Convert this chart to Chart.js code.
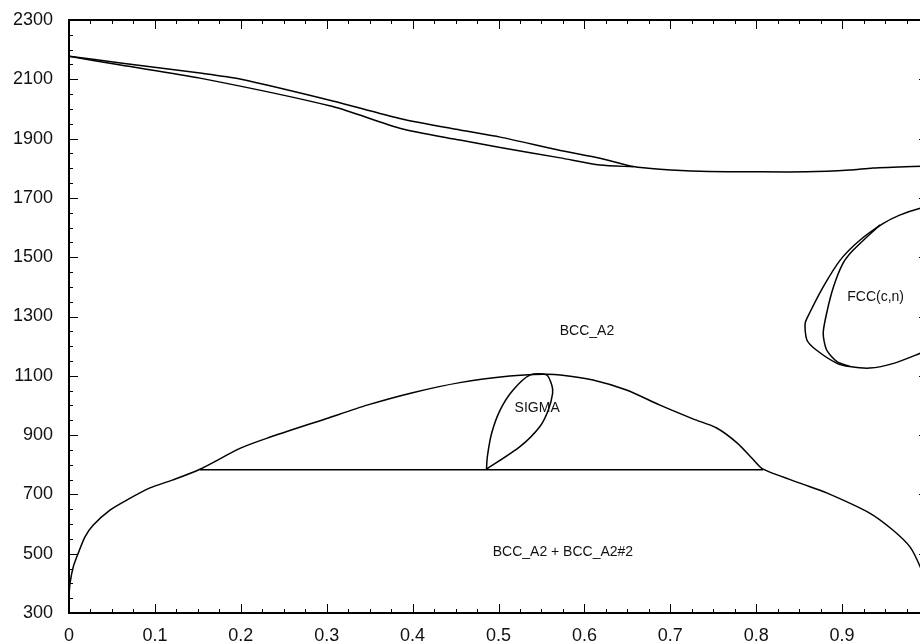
<!DOCTYPE html>
<html>
<head>
<meta charset="utf-8">
<script src="https://cdn.jsdelivr.net/npm/chart.js@4.4.1/dist/chart.umd.min.js"></script>
<style>
  html, body { margin: 0; padding: 0; background: #fff; overflow: hidden; }
  canvas { display: block; }
</style>
</head>
<body>
<canvas id="phaseChart" width="940" height="641"></canvas>
<script>
// tick values
const xTicks = [0, 0.1, 0.2, 0.3, 0.4, 0.5, 0.6, 0.7, 0.8, 0.9, 1]
const yTicks = [300, 500, 700, 900, 1100, 1300, 1500, 1700, 1900, 2100, 2300]

// liquidus / solidus
const liquidusX = [0, 0.06, 0.1525, 0.199, 0.307, 0.385, 0.455, 0.502, 0.572, 0.618, 0.657, 0.688, 0.735, 0.80, 0.859, 0.909, 0.936, 1.0]
const liquidusT = [2178, 2155, 2121, 2101, 2027, 1968, 1929, 1905, 1860, 1834, 1806, 1797, 1790, 1788, 1788, 1794, 1801, 1808]
const solidusX = [0, 0.06, 0.1525, 0.307, 0.385, 0.455, 0.502, 0.572, 0.618, 0.657]
const solidusT = [2178, 2148, 2104, 2008, 1935, 1895, 1870, 1835, 1811, 1805]

// bcc miscibility gap
const gapX = [0, 0.0012, 0.005, 0.0108, 0.0186, 0.0283, 0.0477, 0.0672, 0.0943, 0.121, 0.1525, 0.199, 0.23, 0.3, 0.347, 0.4, 0.455,
    0.513, 0.552, 0.572, 0.61, 0.649, 0.688, 0.727, 0.754, 0.778, 0.797, 0.808, 0.851, 0.882, 0.932, 0.959, 0.979, 0.991, 1.0]
const gapT = [360, 401, 456, 502, 557, 597, 647, 681, 722, 749, 785, 855, 889, 956, 1001, 1043, 1077,
    1099, 1105, 1103, 1086, 1052, 1001, 954, 924, 873, 816, 785, 738, 705, 637, 580, 523, 455, 380]

// eutectoid tie line
const tieX = [0.1525, 0.808]
const tieT = [783, 783]

// sigma loop
const sigmaX = [0.486, 0.487, 0.492, 0.502, 0.517, 0.537, 0.556, 0.562, 0.563, 0.558, 0.548, 0.525, 0.486]
const sigmaT = [785, 827, 906, 985, 1052, 1103, 1103, 1069, 1041, 985, 928, 861, 785]

// fcc loop (outer and inner boundary)
const fccOuterX = [1.0, 0.991, 0.967, 0.948, 0.921, 0.898, 0.878, 0.862, 0.857, 0.859, 0.87, 0.894, 0.909, 0.932, 0.96, 0.991, 1.0]
const fccOuterT = [1668, 1665, 1642, 1614, 1558, 1491, 1400, 1311, 1277, 1221, 1187, 1142, 1131, 1126, 1142, 1176, 1187]
const fccInnerX = [0.944, 0.913, 0.901, 0.89, 0.882, 0.878, 0.882, 0.894, 0.909]
const fccInnerT = [1609, 1524, 1479, 1400, 1311, 1243, 1187, 1148, 1131]

// phase field names
const phaseLabels = ['BCC_A2', 'SIGMA', 'BCC_A2 + BCC_A2#2', 'FCC(c,n)']
const phaseLabelX = [0.603, 0.545, 0.575, 0.939]
const phaseLabelT = [1251, 990, 506, 1366]


function toPoints(xs, ts) {
    return xs.map((x, i) => ({ x: x, y: ts[i] }))
}

function curve(xs, ts) {
    return {
        data: toPoints(xs, ts),
        showLine: true,
        borderColor: '#000',
        borderWidth: 1.5,
        pointRadius: 0,
        tension: 0.25
    }
}

// inward ticks on all four sides + frame + field names
const framePlugin = {
    id: 'frame',
    afterDraw(chart) {
        const ctx = chart.ctx
        const a = chart.chartArea
        const xs = chart.scales.x
        const ys = chart.scales.y
        ctx.save()
        ctx.strokeStyle = '#000'
        ctx.lineWidth = 1
        ctx.beginPath()
        for (let i = 0; i <= 40; i++) {
            const len = i % 4 === 0 ? 9 : 4
            const px = Math.round(xs.getPixelForValue(i * 0.025)) + 0.5
            ctx.moveTo(px, a.bottom); ctx.lineTo(px, a.bottom - len)
            ctx.moveTo(px, a.top); ctx.lineTo(px, a.top + len)
            const py = Math.round(ys.getPixelForValue(300 + i * 50)) + 0.5
            ctx.moveTo(a.left, py); ctx.lineTo(a.left + len, py)
            ctx.moveTo(a.right, py); ctx.lineTo(a.right - len, py)
        }
        ctx.stroke()
        ctx.lineWidth = 2
        ctx.strokeRect(a.left, a.top, a.right - a.left, a.bottom - a.top)

        ctx.fillStyle = '#111'
        ctx.font = '14px "Liberation Sans", Arial, sans-serif'
        ctx.textAlign = 'center'
        ctx.textBaseline = 'middle'
        phaseLabels.forEach((t, i) => {
            ctx.fillText(t, xs.getPixelForValue(phaseLabelX[i]), ys.getPixelForValue(phaseLabelT[i]))
        })
        ctx.restore()
    }
}

const tickFont = { family: '"Liberation Sans", Arial, sans-serif', size: 18 }

new Chart(document.getElementById('phaseChart'), {
    type: 'scatter',
    data: {
        datasets: [
            curve(liquidusX, liquidusT),
            curve(solidusX, solidusT),
            curve(gapX, gapT),
            curve(tieX, tieT),
            curve(sigmaX, sigmaT),
            curve(fccOuterX, fccOuterT),
            curve(fccInnerX, fccInnerT)
        ]
    },
    options: {
        responsive: false,
        animation: false,
        layout: { padding: { top: 20, right: 12, left: 0, bottom: 0 } },
        plugins: {
            legend: { display: false },
            tooltip: { enabled: false }
        },
        scales: {
            x: {
                type: 'linear',
                min: 0,
                max: 1,
                grid: { display: false, drawTicks: false },
                border: { display: false },
                afterFit(scale) {
                    scale.height = 28
                    scale.paddingLeft = 0
                    scale.paddingRight = 0
                },
                afterBuildTicks(scale) { scale.ticks = xTicks.map(v => ({ value: v })) },
                ticks: {
                    color: '#111',
                    font: tickFont,
                    padding: 12,
                    maxRotation: 0,
                    callback: v => String(v)
                }
            },
            y: {
                type: 'linear',
                min: 300,
                max: 2300,
                grid: { display: false, drawTicks: false },
                border: { display: false },
                afterFit(scale) {
                    scale.width = 69
                    scale.paddingTop = 0
                    scale.paddingBottom = 0
                },
                afterBuildTicks(scale) { scale.ticks = yTicks.map(v => ({ value: v })) },
                ticks: {
                    color: '#111',
                    font: tickFont,
                    padding: 16,
                    callback: v => String(v)
                }
            }
        }
    },
    plugins: [framePlugin]
});
</script>
</body>
</html>
